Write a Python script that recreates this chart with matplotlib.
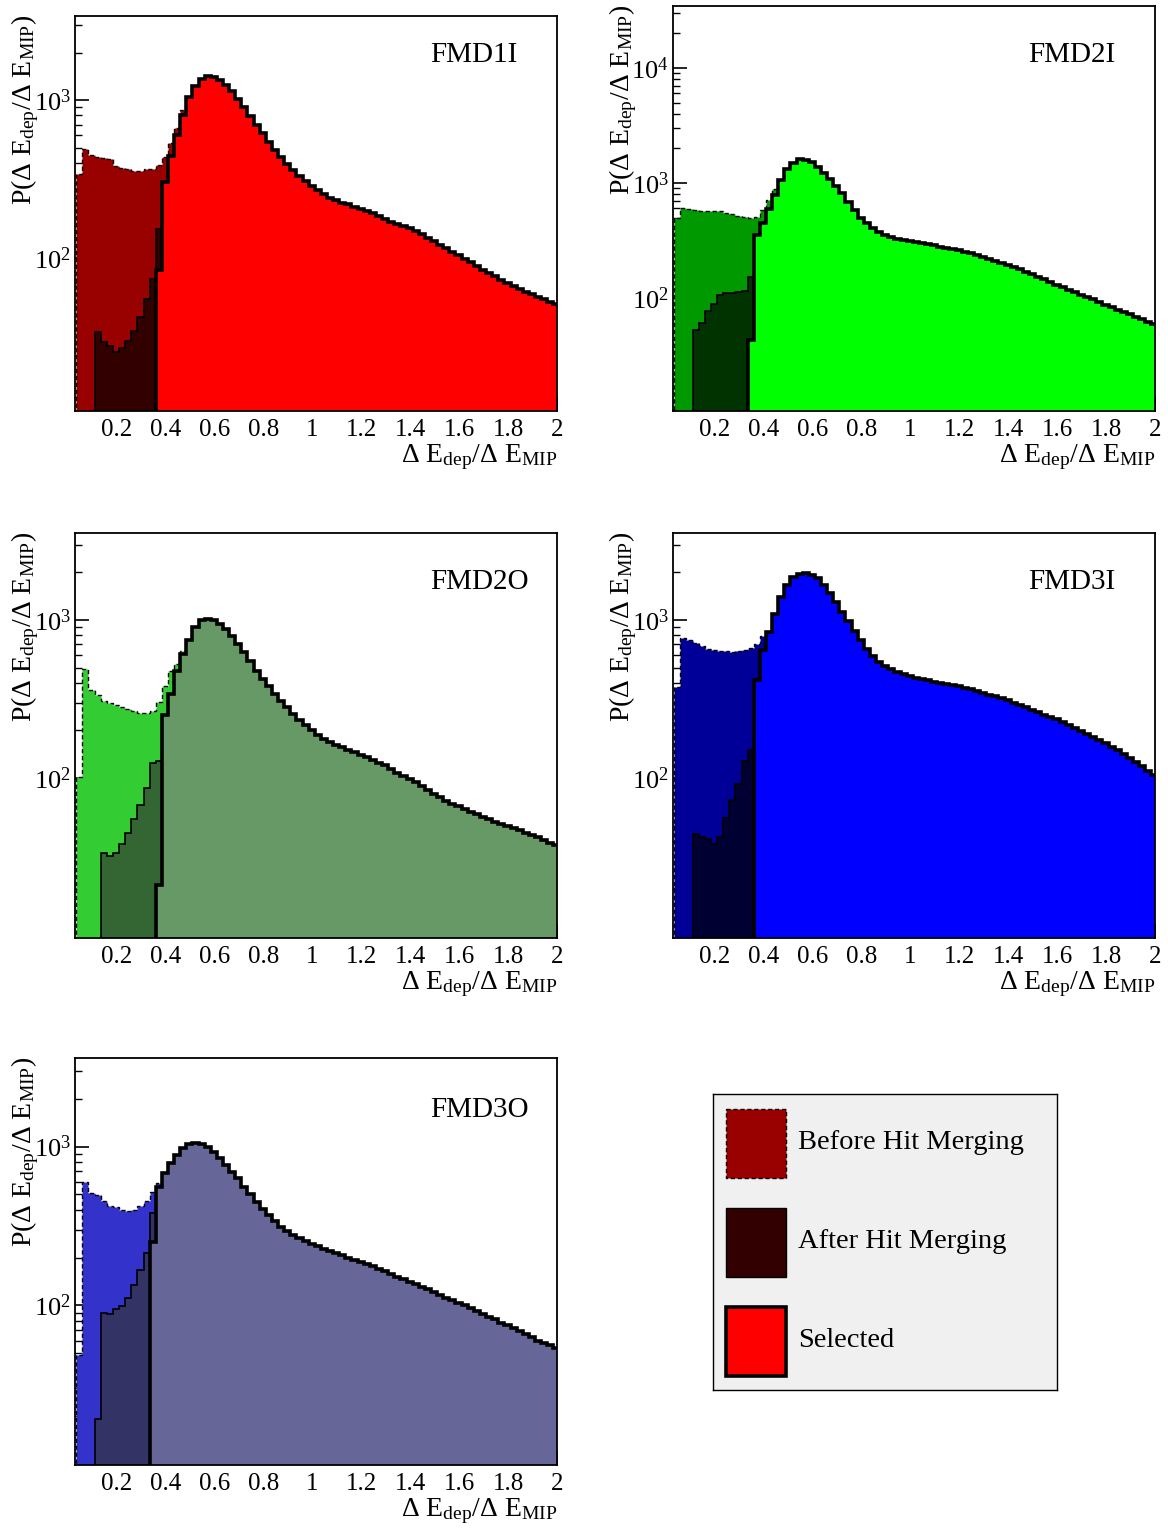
import numpy as np
import matplotlib
matplotlib.use("Agg")
import matplotlib.pyplot as plt
from matplotlib.patches import Rectangle
from matplotlib.ticker import FixedLocator, LogLocator, NullFormatter

plt.rcParams['font.family'] = ['Liberation Serif', 'DejaVu Serif']
plt.rcParams['mathtext.fontset'] = 'custom'
plt.rcParams['mathtext.rm'] = 'Liberation Serif'
plt.rcParams['mathtext.it'] = 'Liberation Serif:italic'
plt.rcParams['mathtext.bf'] = 'Liberation Serif:bold'

# bins of 0.025 in dE/dE_MIP, 79 bins from 0.035
edges = np.round(0.035 + 0.025 * np.arange(80), 3)

# ---- FMD1I ----
fmd1i_before = [340, 488, 449, 438, 431, 422, 382, 373, 364, 357, 357, 364, 368, 388, 438, 532, 668, 864]
fmd1i_after = [33.9, 29.5, 27.8, 25.5, 27.2, 29.8, 34.5, 42.5, 54.8, 73.6, 153]
fmd1i_sel = [84, 304, 443, 600, 803, 1050, 1227, 1352, 1419, 1405,
             1339, 1244, 1140, 1020, 907, 796, 695, 615, 545, 483,
             434, 394, 361, 332, 308, 287, 269, 254, 242, 233,
             225, 219, 211, 205, 199, 192, 185, 178, 170, 165,
             160, 155, 149, 142, 135, 128, 122, 116, 110, 104.5,
             99, 94, 89, 84.7, 80.7, 76.9, 73.3, 69.8, 66.8, 64,
             61.5, 59.2, 56.9, 55.1, 52.9, 51]

# ---- FMD2I ----
fmd2i_before = [493, 602, 590, 582, 571, 568, 574, 571, 552, 537, 516, 503, 493, 509, 582, 711, 881]
fmd2i_after = [52.7, 61, 77.6, 88.8, 106, 110, 111, 113, 115, 153]
fmd2i_sel = [43, 353, 452, 590, 787, 1062, 1316, 1502, 1608, 1600,
             1531, 1387, 1230, 1077, 942, 813, 687, 582, 500, 445,
             405, 375, 352, 336, 325, 317, 310, 304, 298, 292,
             286, 280, 274, 267, 260, 252, 244, 236, 228, 220,
             211, 202, 194, 186, 177, 168, 160, 152, 145, 137,
             130, 124, 118, 112, 107, 102, 97, 92, 87, 83,
             79, 75, 72, 68, 65, 62, 59]

# ---- FMD2O ----
fmd2o_before = [101, 492, 358, 333, 309, 298, 288, 281, 272, 265, 259, 259, 267, 302, 380, 479, 530, 640]
fmd2o_after = [33.7, 32.1, 33.7, 38, 45.1, 54.8, 67.6, 87, 124, 128]
fmd2o_sel = [21, 249, 341, 479, 612, 745, 904, 997, 1022, 997,
             950, 882, 789, 702, 627, 550, 479, 425, 380, 341,
             309, 281, 255, 233, 215, 200, 188, 177, 168, 162,
             156, 151, 146, 140, 135, 130, 124, 120, 114, 108,
             103, 98, 94, 88.5, 83.8, 79.4, 75.3, 71, 68.5, 66,
             63.5, 61, 59, 57, 55, 53, 51, 49.5, 48, 46.5,
             45, 43.5, 42, 40.5, 39, 37.7]

# ---- FMD3I ----
fmd3i_before = [376, 774, 745, 716, 682, 660, 643, 637, 637, 628, 632, 643, 668, 709, 789]
fmd3i_after = [44, 42, 41, 38, 42, 56, 72, 91, 128, 150]
fmd3i_sel = [415, 643, 841, 1099, 1402, 1663, 1879, 1954, 1972, 1926,
             1832, 1663, 1480, 1300, 1130, 980, 850, 745, 660, 595,
             545, 510, 488, 470, 455, 442, 432, 423, 415, 407,
             400, 393, 386, 380, 372, 364, 355, 346, 337, 328,
             319, 310, 300, 290, 280, 270, 261, 252, 243, 235,
             226, 217, 208, 199, 190, 182, 174, 166, 158, 150,
             142, 134, 127, 119, 111, 104]

# ---- FMD3O ----
fmd3o_before = [48.9, 601, 513, 496, 454, 424, 418, 399, 395, 399, 423, 454, 520, 591, 695]
fmd3o_after = [19.3, 90.2, 88, 94.6, 99.8, 112, 135, 167, 215, 380]
fmd3o_sel = [252, 558, 678, 783, 884, 974, 1037, 1047, 1037, 988,
             927, 843, 766, 695, 631, 558, 502, 450, 405, 368,
             338, 313, 293, 277, 264, 253, 244, 236, 228, 221,
             214, 207, 200, 194, 188, 182, 176, 170, 164, 158,
             152, 146, 141, 136, 131, 126, 121, 116, 112, 108,
             104, 100, 96, 92, 88, 85, 82, 78, 75, 72,
             69, 66, 63, 60, 58, 56, 54]

names = ['FMD1I', 'FMD2I', 'FMD2O', 'FMD3I', 'FMD3O']
befores = [fmd1i_before, fmd2i_before, fmd2o_before, fmd3i_before, fmd3o_before]
afters = [fmd1i_after, fmd2i_after, fmd2o_after, fmd3i_after, fmd3o_after]
sels = [fmd1i_sel, fmd2i_sel, fmd2o_sel, fmd3i_sel, fmd3o_sel]
after_start = [3, 3, 4, 3, 3]      # first bin of the after-merging histogram
sel_start = [13, 12, 13, 13, 12]   # first bin of the selected histogram

xticks = [0.2, 0.4, 0.6, 0.8, 1.0, 1.2, 1.4, 1.6, 1.8, 2.0]
xticklabels = ['0.2', '0.4', '0.6', '0.8', '1', '1.2', '1.4', '1.6', '1.8', '2']

colors = [('#990000', '#330000', '#ff0000'),
          ('#009900', '#003300', '#00ff00'),
          ('#33cc33', '#336633', '#669966'),
          ('#000099', '#000033', '#0000ff'),
          ('#3333cc', '#333366', '#666699')]

W, H = 1168, 1530
# frame boxes in pixels (x0, y0, x1, y1)
boxes = [(75, 16, 557, 411), (673, 6, 1155, 411),
         (75, 533, 557, 938), (673, 533, 1155, 938),
         (75, 1058, 557, 1465)]
ylims = [(10.8, 3404), (10.4, 34600), (9.7, 3556), (9.7, 3556), (9.9, 3606)]
title_y = [55, 55, 582, 582, 1110]


def fbox(x0, y0, x1, y1):
    return [x0 / W, 1 - y1 / H, (x1 - x0) / W, (y1 - y0) / H]


fig = plt.figure(figsize=(W / 100, H / 100), dpi=100)
fig.patch.set_facecolor('white')

ytitle = 'P(Δ E$_{\\rm dep}$/Δ E$_{\\rm MIP}$)'
xtitle = 'Δ E$_{\\rm dep}$/Δ E$_{\\rm MIP}$'

for k in range(5):
    x0, y0, x1, y1 = boxes[k]
    ax = fig.add_axes(fbox(x0, y0, x1, y1))
    ax.set_yscale('log')
    c_bef, c_aft, c_sel = colors[k]

    b = befores[k]
    ax.stairs(b, edges[:len(b) + 1], baseline=1, fill=True, facecolor=c_bef,
              edgecolor='black', linewidth=1.0, linestyle=(0, (3, 2)), zorder=1)
    a = afters[k]
    s0 = after_start[k]
    ax.stairs(a, edges[s0:s0 + len(a) + 1], baseline=1, fill=True, facecolor=c_aft,
              edgecolor='black', linewidth=1.2, zorder=2)
    s = sels[k]
    s0 = sel_start[k]
    ax.stairs(s, edges[s0:s0 + len(s) + 1], baseline=1, fill=True, facecolor=c_sel,
              edgecolor='black', linewidth=2.6, joinstyle='miter', zorder=3)

    ax.set_xlim(0.03, 2.0)
    ax.set_ylim(*ylims[k])
    ax.set_axisbelow(True)
    for sp in ax.spines.values():
        sp.set_zorder(5)
        sp.set_linewidth(1.3)

    ax.set_xticks(xticks)
    ax.set_xticklabels(xticklabels)
    major = [100, 1000, 10000] if k == 1 else [100, 1000]
    ax.yaxis.set_major_locator(FixedLocator(major))
    ax.yaxis.set_minor_locator(LogLocator(base=10, subs=np.arange(2, 10), numticks=20))
    ax.yaxis.set_minor_formatter(NullFormatter())
    ax.set_yticklabels(['$10^{%d}$' % int(np.log10(m)) for m in major])
    ax.tick_params(axis='both', which='both', direction='in', top=False, right=False)
    ax.tick_params(axis='y', which='major', length=10, width=1.2, labelsize=19, pad=3)
    ax.tick_params(axis='y', which='minor', length=5, width=1.0)
    ax.tick_params(axis='x', which='major', length=10, width=1.2, labelsize=18, pad=6)

    # titles / labels placed in figure pixels
    fig.text((430 if x0 < 300 else 1028) / W, 1 - title_y[k] / H,
             names[k], fontsize=21, ha='left', va='center')
    fig.text((25 if x0 < 300 else 623) / W, 1 - (y0 - 1) / H, ytitle, rotation=90,
             fontsize=20, ha='center', va='top')
    fig.text(x1 / W, 1 - (y1 + 51) / H, xtitle, fontsize=20, ha='right', va='baseline')

# legend box
lax = fig.add_axes(fbox(713, 1094, 1057, 1390))
lax.set_xlim(713, 1057)
lax.set_ylim(1390, 1094)
lax.set_facecolor('#f0f0f0')
lax.set_xticks([])
lax.set_yticks([])
for sp in lax.spines.values():
    sp.set_linewidth(1.0)

leg_labels = ['Before Hit Merging', 'After Hit Merging', 'Selected']
leg_styles = [dict(facecolor='#990000', edgecolor='black', linewidth=1.0, linestyle=(0, (3, 2))),
              dict(facecolor='#330000', edgecolor='black', linewidth=1.0),
              dict(facecolor='#ff0000', edgecolor='black', linewidth=2.6)]
leg_y = [1109, 1208, 1307]
for lab, st, yy in zip(leg_labels, leg_styles, leg_y):
    lax.add_patch(Rectangle((726, yy), 60, 69, **st))
    lax.text(798, yy + 34, lab, fontsize=20.5, ha='left', va='center')

fig.savefig('out.png', dpi=100)
